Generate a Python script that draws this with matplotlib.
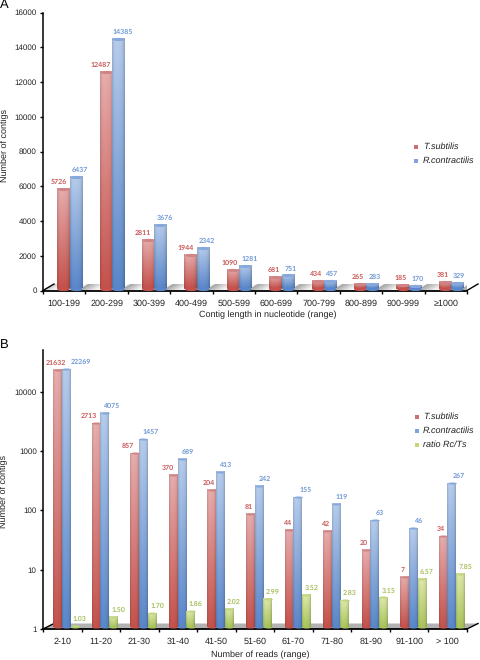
import numpy as np
import matplotlib
matplotlib.use('Agg')
from matplotlib import pyplot as plt
from matplotlib.patches import Polygon, Rectangle
from matplotlib.path import Path
from matplotlib.transforms import Affine2D, IdentityTransform

cats_a = ['100-199', '200-299', '300-399', '400-499', '500-599', '600-699', '700-799', '800-899', '900-999', '≥1000']
ts_a = [5726, 12487, 2811, 1944, 1090, 681, 434, 265, 185, 381]
rc_a = [6437, 14385, 3676, 2342, 1281, 751, 457, 283, 170, 329]

cats_b = ['2-10', '11-20', '21-30', '31-40', '41-50', '51-60', '61-70', '71-80', '81-90', '91-100', '> 100']
ts_b = [21632, 2713, 857, 370, 204, 81, 44, 42, 20, 7, 34]
rc_b = [22269, 4075, 1457, 689, 413, 242, 155, 119, 63, 46, 267]
ratio_b = [1.03, 1.50, 1.70, 1.86, 2.02, 2.99, 3.52, 2.83, 3.15, 6.57, 7.85]
ratio_labels = ['1.03', '1.50', '1.70', '1.86', '2.02', '2.99', '3.52', '2.83', '3.15', '6.57', '7.85']

# label nudges in pixels, label x relative to its bar
nudge_ts_a = [-5, -5.5, -5, -5, -3.5, -2, -1.5, -2.3, -2, -2]
nudge_rc_a = [4, 5, 4.5, 4.5, 4, 3, 2, 2, 2.7, 1.5]
nudge_ts_b = [-1.7, -7, -6.7, -5, -3, -1.3, -1.3, -1.3, -2, -1.7, -2]
nudge_rc_b = [14.3, 7.3, 7.7, 5.6, 5.3, 6, 7.6, 6, 5, 6, 7]

RED = ('#e6acac', '#c4524c', '#cf8585')
BLUE = ('#b5cbeb', '#5a87c9', '#86a8dc')
GREEN = ('#dde8aa', '#a9c45c', '#c0d680')
RED_TXT, BLUE_TXT, GREEN_TXT = '#c85a5a', '#7199d4', '#a8c060'

W, H = 480, 660
plt.rcParams['font.family'] = ['Liberation Sans', 'DejaVu Sans']
plt.rcParams['text.hinting'] = 'no_hinting'
plt.rcParams['text.hinting_factor'] = 1
fig = plt.figure(figsize=(W / 100, H / 100), dpi=100, facecolor='white')


def rgb(c):
    return np.array(matplotlib.colors.to_rgb(c))


def make_axes(left, right, top, bottom):
    return fig.add_axes([left / W, 1 - bottom / H, (right - left) / W, (bottom - top) / H], facecolor='none')


def bar_image(ax, rect, colors):
    # cylinder look: light top, saturated bottom, darker edges
    bb = rect.get_window_extent()
    t = np.linspace(0, 1, 64)[:, None, None]
    u = np.linspace(-1, 1, 24)[None, :, None]
    img = rgb(colors[0]) * (1 - t) + rgb(colors[1]) * t
    shade = 1.0 - 0.18 * u ** 4 - 0.03 * u
    img = np.clip(img * shade, 0, 1)
    ax.imshow(img, extent=(bb.x0, bb.x1, bb.y0, bb.y1), transform=IdentityTransform(), aspect='auto',
              interpolation='bilinear', zorder=3.1, clip_on=False)


def draw_series(ax, xs, vals, base, width, dx, colors, ell_h):
    off = ax.transData + Affine2D().translate(dx, 2)
    ell = Path.unit_circle().transformed(Affine2D().scale(1, ell_h))
    bars = ax.bar(xs, np.array(vals) - base, width=width, bottom=base, color=colors[1], transform=off,
                  zorder=3, clip_on=False)
    px = (ax.transData.transform((1, base))[0] - ax.transData.transform((0, base))[0]) * width
    for x, v, r in zip(xs, vals, bars):
        bar_image(ax, r, colors)
        ax.plot([x], [base], marker=ell, ms=px * 0.72, mfc=colors[1], mec='none', transform=off, zorder=2.9, clip_on=False)
        ax.plot([x], [v], marker=ell, ms=px * 0.72, mfc=colors[2], mec='none', transform=off, zorder=3.2, clip_on=False)


def draw_labels(ax, xs, vals, texts, nudges, dx, color):
    for x, v, s, n in zip(xs, vals, texts, nudges):
        ax.text(x, v, s, transform=ax.transData + Affine2D().translate(dx + n, 9), ha='center', va='center',
                fontsize=5, fontweight='bold', family='Lato', color=color, zorder=5, clip_on=False)


def floor(ax, left, right, top, bottom, shear, solid=None):
    y0, y1 = H - bottom, H - top
    verts = [(left, y0), (left + shear, y1), (right + shear, y1), (right, y0)]
    if solid:
        ax.add_patch(Polygon(verts, closed=True, fc=solid, ec='none', transform=IdentityTransform(), zorder=0.5, clip_on=False))
    else:
        # repeating grey to white band behind each pair of bars
        xx = np.arange(left, right + shear, 0.5)
        yy = np.linspace(1, 0, 14)
        gx, gy = np.meshgrid(xx, yy)
        p = ((gx - shear * gy - 78) / 42.4) % 1
        v = np.where(p < 0.42, 160 + 85 * p / 0.42, 245) / 255
        im = ax.imshow(np.dstack([v, v, v]), extent=(left, right + shear, y0, y1), transform=IdentityTransform(),
                       aspect='auto', zorder=0.5, clip_on=True)
        im.set_clip_path(Polygon(verts, closed=True, transform=IdentityTransform()))
    for x in (left, right):
        ax.plot([x, x + shear], [y0, y1], color='black', lw=1, transform=IdentityTransform(), zorder=2.6, clip_on=False)


def style_axes(ax, cats):
    n = len(cats)
    ax.set_xlim(-0.5, n - 0.5)
    ax.spines['top'].set_visible(False)
    ax.spines['right'].set_visible(False)
    ax.spines['left'].set_linewidth(1.1)
    ax.spines['bottom'].set_linewidth(1.3)
    ax.set_xticks(np.arange(n), labels=cats)
    ax.set_xticks(np.arange(n + 1) - 0.5, minor=True)
    ax.tick_params(axis='x', which='major', length=0, pad=6.2, labelsize=6.2, colors='#222222')
    ax.tick_params(axis='x', which='minor', length=2.2, width=1, direction='out')
    ax.tick_params(axis='y', which='major', length=2.5, width=1, direction='out', labelsize=6, pad=2, labelcolor='#222222')
    ax.tick_params(axis='y', which='minor', length=0)


def legend(entries, xm, xt, ys):
    for (name, col), y in zip(entries, ys):
        fig.add_artist(Rectangle(((xm - 2) / W, 1 - (y + 2) / H), 4 / W, 4 / H, fc=col, ec='none', transform=fig.transFigure))
        fig.text(xt / W, 1 - y / H, name, style='italic', fontsize=6.5, va='center', ha='left', color='#222222')


# panel A
ax_a = make_axes(43, 467, 12.5, 290.5)
ax_a.set_ylim(0, 16000)
style_axes(ax_a, cats_a)
ax_a.set_yticks(np.arange(0, 16001, 2000))
x_a = np.arange(len(cats_a))
wa = 0.29
floor(ax_a, 43, 467, 284, 290.5, 11)
draw_series(ax_a, x_a - wa / 2, ts_a, 0, wa, 5.3, RED, 0.26)
draw_series(ax_a, x_a + wa / 2, rc_a, 0, wa, 5.3, BLUE, 0.26)
draw_labels(ax_a, x_a - wa / 2, ts_a, [str(v) for v in ts_a], nudge_ts_a, 5.3, RED_TXT)
draw_labels(ax_a, x_a + wa / 2, rc_a, [str(v) for v in rc_a], nudge_rc_a, 5.3, BLUE_TXT)

# panel B, log scale
ax_b = make_axes(43, 467, 350, 629)
ax_b.set_yscale('log')
ax_b.set_ylim(1, 50500)
style_axes(ax_b, cats_b)
ax_b.set_yticks([1, 10, 100, 1000, 10000], labels=['1', '10', '100', '1000', '10000'])
ax_b.minorticks_off()
ax_b.set_xticks(np.arange(len(cats_b) + 1) - 0.5, minor=True)
x_b = np.arange(len(cats_b))
wb = 0.225
floor(ax_b, 43, 467, 623.5, 629, 11, solid='#b2b2b2')
draw_series(ax_b, x_b - wb, ts_b, 1, wb, 4, RED, 0.24)
draw_series(ax_b, x_b, rc_b, 1, wb, 4, BLUE, 0.24)
draw_series(ax_b, x_b + wb, ratio_b, 1, wb, 4, GREEN, 0.24)
draw_labels(ax_b, x_b - wb, ts_b, [str(v) for v in ts_b], nudge_ts_b, 4, RED_TXT)
draw_labels(ax_b, x_b, rc_b, [str(v) for v in rc_b], nudge_rc_b, 4, BLUE_TXT)
draw_labels(ax_b, x_b + wb, ratio_b, ratio_labels, [5] * len(ratio_b), 4, GREEN_TXT)

fig.text(268 / W, 1 - 315 / H, 'Contig length in nucleotide (range)', ha='center', va='center', fontsize=6.5, color='#222222')
fig.text(260 / W, 1 - 655 / H, 'Number of reads (range)', ha='center', va='center', fontsize=6.5, color='#222222')
fig.text(5 / W, 1 - 146 / H, 'Number of contigs', rotation=90, ha='center', va='center', fontsize=6.5, color='#222222')
fig.text(4 / W, 1 - 492 / H, 'Number of contigs', rotation=90, ha='center', va='center', fontsize=6.5, color='#222222')
fig.text(0, 1 - 5 / H, 'A', fontsize=9.5, va='center', ha='left', color='black')
fig.text(0, 1 - 345 / H, 'B', fontsize=9.5, va='center', ha='left', color='black')

legend([('T.subtilis', '#cf6f6c'), ('R.contractilis', '#7fa3da')], 415.7, 423, [146.7, 160.7])
legend([('T.subtilis', '#cf6f6c'), ('R.contractilis', '#7fa3da'), ('ratio Rc/Ts', '#c2d877')], 416.7, 423, [416.7, 431, 445])

fig.savefig('out.png', dpi=100)
